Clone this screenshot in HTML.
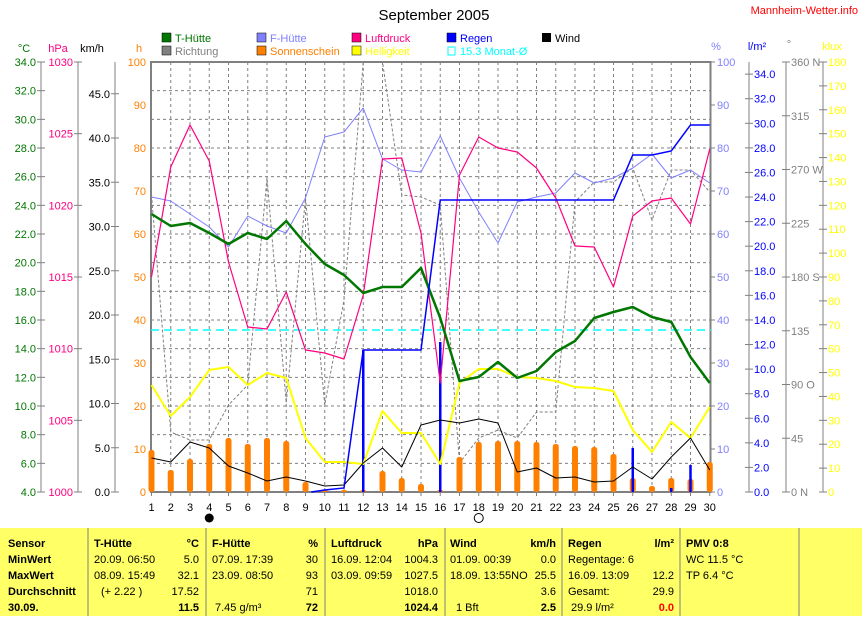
<!DOCTYPE html>
<html><head><meta charset="utf-8"><style>
body{margin:0;background:#fff;width:862px;height:616px;overflow:hidden;font-family:"Liberation Sans",sans-serif}
svg text{font-family:"Liberation Sans",sans-serif;font-size:11px}
</style></head><body>
<svg id="s" width="862" height="616" xmlns="http://www.w3.org/2000/svg">
<text x="434" y="20" text-anchor="middle" style="font-size:15px">September 2005</text>
<text x="858" y="14" fill="#f00" text-anchor="end">Mannheim-Wetter.info</text>
<g>
<rect x="162" y="33" width="9" height="9" fill="#070" stroke="#000" stroke-width=".5"/><text x="175" y="42" fill="#070">T-Hütte</text>
<rect x="162" y="46" width="9" height="9" fill="#808080" stroke="#000" stroke-width=".5"/><text x="175" y="55" fill="#808080">Richtung</text>
<rect x="257" y="33" width="9" height="9" fill="#8080ff" stroke="#000" stroke-width=".5"/><text x="270" y="42" fill="#8080ff">F-Hütte</text>
<rect x="257" y="46" width="9" height="9" fill="#ff8000" stroke="#000" stroke-width=".5"/><text x="270" y="55" fill="#ff8000">Sonnenschein</text>
<rect x="352" y="33" width="9" height="9" fill="#ff0080" stroke="#000" stroke-width=".5"/><text x="365" y="42" fill="#ff0080">Luftdruck</text>
<rect x="352" y="46" width="9" height="9" fill="#ff0" stroke="#000" stroke-width=".5"/><text x="365" y="55" fill="#ff0">Helligkeit</text>
<rect x="447" y="33" width="9" height="9" fill="#00f" stroke="#000" stroke-width=".5"/><text x="460" y="42" fill="#00f">Regen</text>
<rect x="448" y="47" width="7" height="8" fill="none" stroke="#0ff"/><text x="460" y="55" fill="#0ff">15.3 Monat-Ø</text>
<rect x="542" y="33" width="9" height="9" fill="#000"/><text x="555" y="42">Wind</text>
<text x="24" y="52" fill="#070" text-anchor="middle">°C</text>
<text x="58" y="52" fill="#ff0080" text-anchor="middle">hPa</text>
<text x="92" y="52" text-anchor="middle">km/h</text>
<text x="139" y="52" fill="#ff8000" text-anchor="middle">h</text>
<text x="716" y="50" fill="#8080ff" text-anchor="middle">%</text>
<text x="757" y="50" fill="#00f" text-anchor="middle">l/m²</text>
<text x="789" y="48" fill="#808080" text-anchor="middle">°</text>
<text x="832" y="50" fill="#ff0" text-anchor="middle">klux</text>
</g>
<g id="g"></g>
<rect x="0" y="528" width="862" height="88" fill="#ffff66"/>
<g stroke="#808080" stroke-width="1">
<line x1="88" y1="528" x2="88" y2="616"/><line x1="206" y1="528" x2="206" y2="616"/><line x1="325" y1="528" x2="325" y2="616"/><line x1="445" y1="528" x2="445" y2="616"/><line x1="562" y1="528" x2="562" y2="616"/><line x1="680" y1="528" x2="680" y2="616"/><line x1="799" y1="528" x2="799" y2="616"/>
</g>
<g>
<g font-weight="bold"><text x="8" y="547">Sensor</text><text x="8" y="563">MinWert</text><text x="8" y="579">MaxWert</text><text x="8" y="595">Durchschnitt</text><text x="8" y="611">30.09.</text></g>
<text x="94" y="547" font-weight="bold">T-Hütte</text><text x="199" y="547" font-weight="bold" text-anchor="end">°C</text>
<text x="94" y="563">20.09.  06:50</text><text x="199" y="563" text-anchor="end">5.0</text>
<text x="94" y="579">08.09.  15:49</text><text x="199" y="579" text-anchor="end">32.1</text>
<text x="101" y="595">(+ 2.22 )</text><text x="199" y="595" text-anchor="end">17.52</text>
<text x="199" y="611" text-anchor="end" font-weight="bold">11.5</text>
<text x="212" y="547" font-weight="bold">F-Hütte</text><text x="318" y="547" font-weight="bold" text-anchor="end">%</text>
<text x="212" y="563">07.09.  17:39</text><text x="318" y="563" text-anchor="end">30</text>
<text x="212" y="579">23.09.  08:50</text><text x="318" y="579" text-anchor="end">93</text>
<text x="318" y="595" text-anchor="end">71</text>
<text x="215" y="611">7.45 g/m³</text><text x="318" y="611" text-anchor="end" font-weight="bold">72</text>
<text x="331" y="547" font-weight="bold">Luftdruck</text><text x="438" y="547" font-weight="bold" text-anchor="end">hPa</text>
<text x="331" y="563">16.09.  12:04</text><text x="438" y="563" text-anchor="end">1004.3</text>
<text x="331" y="579">03.09.  09:59</text><text x="438" y="579" text-anchor="end">1027.5</text>
<text x="438" y="595" text-anchor="end">1018.0</text>
<text x="438" y="611" text-anchor="end" font-weight="bold">1024.4</text>
<text x="450" y="547" font-weight="bold">Wind</text><text x="556" y="547" font-weight="bold" text-anchor="end">km/h</text>
<text x="450" y="563">01.09.  00:39</text><text x="556" y="563" text-anchor="end">0.0</text>
<text x="450" y="579">18.09.  13:55NO</text><text x="556" y="579" text-anchor="end">25.5</text>
<text x="556" y="595" text-anchor="end">3.6</text>
<text x="456" y="611">1 Bft</text><text x="556" y="611" text-anchor="end" font-weight="bold">2.5</text>
<text x="568" y="547" font-weight="bold">Regen</text><text x="674" y="547" font-weight="bold" text-anchor="end">l/m²</text>
<text x="568" y="563">Regentage: 6</text>
<text x="568" y="579">16.09.  13:09</text><text x="674" y="579" text-anchor="end">12.2</text>
<text x="568" y="595">Gesamt:</text><text x="674" y="595" text-anchor="end">29.9</text>
<text x="571" y="611">29.9 l/m²</text><text x="674" y="611" text-anchor="end" font-weight="bold" fill="#f00">0.0</text>
<text x="686" y="547" font-weight="bold">PMV 0:8</text>
<text x="686" y="563">WC 11.5 °C</text><text x="686" y="579">TP 6.4 °C</text>
</g>
</svg>
<script>
const NS="http://www.w3.org/2000/svg",G=document.getElementById('g');
function el(t,a,txt){const e=document.createElementNS(NS,t);for(const k in a)e.setAttribute(k,a[k]);if(txt!=null)e.textContent=txt;G.appendChild(e);return e;}
const X=d=>151.5+19.25*(d-1),T=62,B=492;
for(let i=1;i<15;i++){const y=T+i*28.667;el('line',{x1:151,x2:711,y1:y,y2:y,stroke:'#808080','stroke-dasharray':'3,3'});}
for(let d=2;d<30;d++)el('line',{x1:X(d),x2:X(d),y1:T,y2:B,stroke:'#808080','stroke-dasharray':'3,3'});
el('rect',{x:151,y:T,width:559.5,height:430,fill:'none',stroke:'#808080','stroke-width':2});
for(let d=1;d<=30;d++){el('line',{x1:X(d),x2:X(d),y1:B,y2:B+4,stroke:'#808080'});el('text',{x:X(d),y:511,'text-anchor':'middle'},d);}
function axis(x,vals,fn,col,side){el('line',{x1:x,x2:x,y1:T,y2:B,stroke:'#808080'});vals.forEach(v=>{const y=fn(v);el('line',{x1:x-4,x2:x+4,y1:y,y2:y,stroke:'#808080'});el('text',{x:side<0?x-5:x+5,y:y+4,fill:col,'text-anchor':side<0?'end':'start'},v.t);});}
let a=[];for(let v=4;v<=34;v+=2)a.push({v,t:v.toFixed(1)});axis(41,a,o=>B-(o.v-4)*14.333,'#070',-1);
a=[];for(let v=1000;v<=1030;v+=5)a.push({v,t:v});axis(78,a,o=>B-(o.v-1000)*14.333,'#ff0080',-1);
a=[];for(let v=0;v<=45;v+=5)a.push({v,t:v.toFixed(1)});axis(115,a,o=>B-o.v*8.85,'#000',-1);
a=[];for(let v=0;v<=100;v+=10)a.push({v,t:v});a.forEach(o=>{const y=B-o.v*4.3;el('text',{x:146,y:y+4,fill:'#ff8000','text-anchor':'end'},o.t);});
a.forEach(o=>{const y=B-o.v*4.3;el('line',{x1:711,x2:715,y1:y,y2:y,stroke:'#808080'});el('text',{x:717,y:y+4,fill:'#8080ff'},o.t);});
a=[];for(let v=0;v<=34;v+=2)a.push({v,t:v.toFixed(1)});axis(749,a,o=>B-o.v*12.29,'#00f',1);
a=[[0,'0     N'],[45,'45'],[90,'90   O'],[135,'135'],[180,'180 S'],[225,'225'],[270,'270 W'],[315,'315'],[360,'360 N']].map(p=>({v:p[0],t:p[1]}));axis(786,a,o=>B-o.v*1.1944,'#808080',1);
a=[];for(let v=0;v<=180;v+=10)a.push({v,t:v});axis(823,a,o=>B-o.v*2.3889,'#ff0',1);
function pl(ys,col,w,dash){el('polyline',{points:ys.map((y,i)=>X(i+1)+','+y).join(' '),fill:'none',stroke:col,'stroke-width':w,'stroke-dasharray':dash||'none','stroke-linejoin':'round'});}
pl([195,432,440,440,405,385,178,403,198,405,300,62,62,195,197,205,463,438,430,438,412,412,202,182,182,168,220,170,170,192],'#808080',1,'3,2');
el('line',{x1:151,x2:711,y1:330,y2:330,stroke:'#0ff','stroke-dasharray':'8,5','stroke-width':1.5});
[450,470,459,444,438,444,438,441,482,490,490,490,471,478,484,490,457,442,441,441,442,444,446,447,454,478,486,478,479,462].forEach((y,i)=>{el('rect',{x:X(i+1)-3,y:y,width:6,height:B-y,rx:2.5,fill:'#ff8000'});});
[[12,350],[16,342],[26,448],[28,488],[29,465]].forEach(p=>el('line',{x1:X(p[0]),x2:X(p[0]),y1:p[1],y2:B,stroke:'#00f','stroke-width':2.5}));
pl([385,416,397,370,367,385,373,378,438,462,462,464,411,433,433,464,383,369,369,377,378,381,387,388,391,430,452,422,438,407],'#ff0',2);
pl([458,462,442,448,466,473,481,477,481,486,485,463,448,467,425,420,423,419,423,472,468,478,477,482,481,467,479,457,438,470],'#000',1);
pl([197,201,214,227,247,216,226,233,198,137,132,108,159,170,172,136,178,212,243,202,197,193,173,183,178,168,154,178,170,183],'#8080ff',1);
pl([277,167,125,161,262,327,329,292,350,353,359,295,159,158,233,383,175,137,148,152,168,198,246,247,287,216,201,198,224,149],'#ff0080',1.2);
pl([214,226,223,233,244,233,239,221,244,264,275,293,287,287,268,318,381,377,362,378,371,352,341,318,312,307,317,322,357,383],'#070',2.5);
el('polyline',{points:`${X(9.3)},492 ${X(10)},490 ${X(11)},488 ${X(12)},350 ${X(15)},350 ${X(16)},200 ${X(25)},200 ${X(26)},155 ${X(27)},155 ${X(28)},151 ${X(29)},125 ${X(30)},125`,fill:'none',stroke:'#00f','stroke-width':1.5});
el('circle',{cx:X(4),cy:518,r:4.5,fill:'#000'});el('circle',{cx:X(18),cy:518,r:4.5,fill:'#fff',stroke:'#000'});
</script>
</body></html>
